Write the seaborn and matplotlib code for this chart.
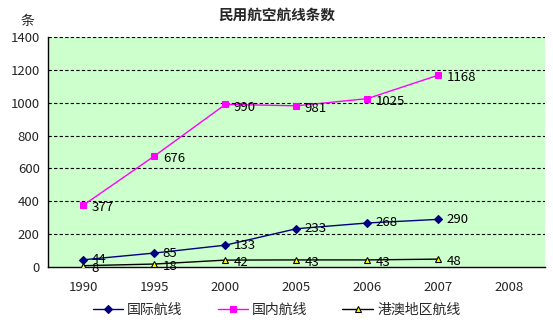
import matplotlib
matplotlib.use("Agg")
import matplotlib.pyplot as plt
import seaborn as sns
import pandas as pd
from matplotlib.ticker import FixedLocator

years = ["1990", "1995", "2000", "2005", "2006", "2007", "2008"]
data_years = ["1990", "1995", "2000", "2005", "2006", "2007"]
intl = [44, 85, 133, 233, 268, 290]
domestic = [377, 676, 990, 981, 1025, 1168]
hkmacau = [8, 18, 42, 43, 43, 48]
series_names = ["国际航线", "国内航线", "港澳地区航线"]
title = "民用航空航线条数"
y_unit = "条"

sns.set_theme(style="white")
plt.rcParams['font.family'] = ['Noto Sans CJK SC', 'DejaVu Sans']

rows = []
for name, vals in zip(series_names, [intl, domestic, hkmacau]):
    for y, v in zip(data_years, vals):
        rows.append({"x": years.index(y), "year": y, "value": v, "series": name})
df = pd.DataFrame(rows)

fig = plt.figure(figsize=(5.53, 3.27), dpi=100)
ax = fig.add_axes([0.0868, 0.1835, 0.8987, 0.7034])
ax.set_facecolor("#CCFFCC")

styles = {
    "国际航线": dict(color="#000080", marker="D", mfc="#000080", mec="#000080", ms=4, dy=0),
    "国内航线": dict(color="#FF00FF", marker="s", mfc="#FF00FF", mec="#FF00FF", ms=5, dy=-2),
    "港澳地区航线": dict(color="#000000", marker="^", mfc="#FFFF00", mec="#000000", ms=5, dy=-2),
}

for name in series_names:
    sub = df[df.series == name]
    st = styles[name]
    sns.lineplot(data=sub, x="x", y="value", ax=ax, color=st["color"], lw=1,
                 marker=st["marker"], markersize=st["ms"], markerfacecolor=st["mfc"],
                 markeredgecolor=st["mec"], markeredgewidth=0.8, label=name, zorder=3)
    for _, r in sub.iterrows():
        ax.annotate(str(r.value), (r.x, r.value), xytext=(6, st["dy"]), textcoords="offset points",
                    ha="left", va="center", fontsize=9.5, color="black", zorder=4)

ax.set_xlim(-0.5, 6.5)
ax.set_ylim(0, 1400)
ax.set_xticks(range(len(years)))
ax.set_xticklabels(years, fontsize=9.5)
ax.set_yticks(range(0, 1401, 200))
ax.set_yticklabels([str(v) for v in range(0, 1401, 200)], fontsize=9.5)
ax.xaxis.set_minor_locator(FixedLocator([i + 0.5 for i in range(-1, 7)]))
ax.tick_params(axis="x", which="major", length=0, pad=10)
ax.tick_params(axis="x", which="minor", length=4, direction="in", width=0.8, color="black")
ax.tick_params(axis="y", which="major", length=0, pad=6)

for v in range(200, 1401, 200):
    ax.axhline(v, color="black", lw=0.8, ls=(0, (3, 2)), zorder=1)

for s in ["top", "right"]:
    ax.spines[s].set_visible(False)
for s in ["left", "bottom"]:
    ax.spines[s].set_color("black")
    ax.spines[s].set_linewidth(1)
ax.set_xlabel("")
ax.set_ylabel("")

fig.text(0.5, 0.955, title, ha="center", va="center", fontsize=10.5, fontweight="bold")
fig.text(0.05, 0.935, y_unit, ha="center", va="center", fontsize=10)

handles, labels = ax.get_legend_handles_labels()
ax.get_legend().remove()
fig.legend(handles, labels, loc="center", bbox_to_anchor=(0.5, 0.052), ncol=3, frameon=False,
           fontsize=10, handlelength=2.2, columnspacing=2.5, handletextpad=0.3)

fig.savefig("out.png", dpi=100)
